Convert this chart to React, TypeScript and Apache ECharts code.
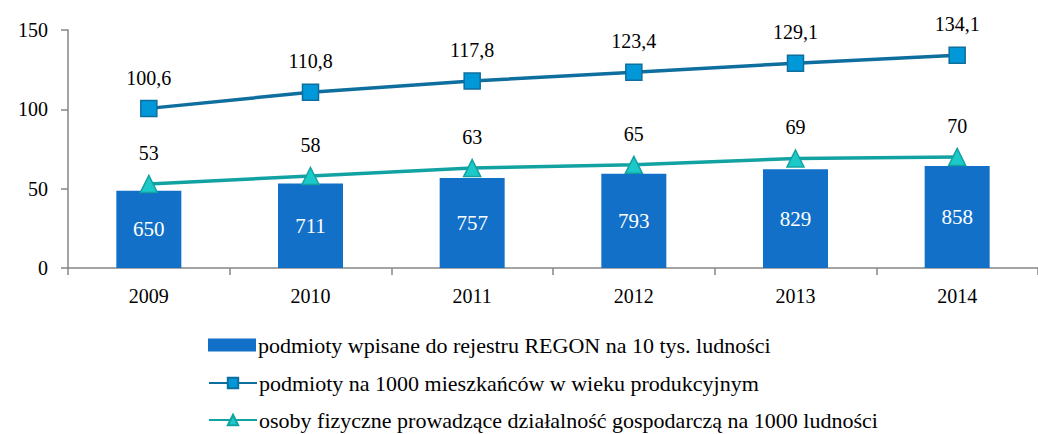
import React, { useEffect, useRef } from "react";
import * as echarts from "echarts";

const years = ["2009", "2010", "2011", "2012", "2013", "2014"];
const regonPer10k = [650, 711, 757, 793, 829, 858];
const perWorkingAge1000 = [100.6, 110.8, 117.8, 123.4, 129.1, 134.1];
const selfEmployedPer1000 = [53, 58, 63, 65, 69, 70];
const yTicks = { min: 0, max: 150, interval: 50 };

const seriesNames = [
  "podmioty wpisane do rejestru REGON na 10 tys. ludności",
  "podmioty na 1000 mieszkańców w wieku produkcyjnym",
  "osoby fizyczne prowadzące działalność gospodarczą na 1000 ludności",
];

const FONT = "Liberation Serif";

export default function App() {
  const ref = useRef<HTMLDivElement>(null);
  useEffect(() => {
    if (!ref.current) return;
    const chart = echarts.init(ref.current, null, { renderer: "svg" });
    const fmt = (v: number) => String(v).replace(".", ",");
    const legendRow = (i: number, top: number, icon?: string) => ({
      orient: "vertical",
      left: 208,
      top,
      padding: 0,
      itemWidth: 48,
      itemHeight: 13,
      textStyle: { fontFamily: FONT, fontSize: 22, color: "#000", padding: [0, 0, 0, -3] },
      data: [icon ? { name: seriesNames[i], icon } : { name: seriesNames[i] }],
    });
    chart.setOption({
      animation: false,
      textStyle: { fontFamily: FONT },
      grid: { left: 68, right: -6, top: 30, bottom: 166, containLabel: false },
      legend: [legendRow(0, 334, "rect"), legendRow(1, 372), legendRow(2, 409)],
      xAxis: {
        type: "category",
        data: years,
        boundaryGap: true,
        axisLine: { lineStyle: { color: "#868686", width: 1.5 } },
        axisTick: { show: true, length: 7, lineStyle: { color: "#868686", width: 1.5 } },
        axisLabel: { color: "#000", fontSize: 20, fontFamily: FONT, margin: 18 },
      },
      yAxis: [
        {
          type: "value",
          min: yTicks.min,
          max: yTicks.max,
          interval: yTicks.interval,
          axisLine: { show: true, lineStyle: { color: "#868686", width: 1.5 } },
          axisTick: { show: true, length: 7, lineStyle: { color: "#868686", width: 1.5 } },
          splitLine: { show: false },
          axisLabel: { color: "#000", fontSize: 20, fontFamily: FONT, margin: 20 },
        },
        { type: "value", min: 0, max: 2000, show: false, splitLine: { show: false } },
      ],
      series: [
        {
          name: seriesNames[0],
          type: "bar",
          yAxisIndex: 1,
          data: regonPer10k,
          barWidth: 65,
          itemStyle: { color: "#1270C8" },
          label: {
            show: true,
            position: "inside",
            color: "#fff",
            fontSize: 21,
            fontFamily: FONT,
          },
          z: 1,
        },
        {
          name: seriesNames[1],
          type: "line",
          data: perWorkingAge1000,
          symbol: "rect",
          symbolSize: 16,
          lineStyle: { color: "#0E6E9E", width: 3.5 },
          itemStyle: { color: "#0098D8", borderColor: "#0E6E9E", borderWidth: 1.5 },
          label: {
            show: true,
            position: "top",
            distance: 12,
            color: "#000",
            fontSize: 20,
            fontFamily: FONT,
            formatter: (p: any) => fmt(p.value),
          },
          z: 3,
        },
        {
          name: seriesNames[2],
          type: "line",
          data: selfEmployedPer1000,
          symbol: "triangle",
          symbolSize: 17,
          lineStyle: { color: "#13A2A2", width: 3.5 },
          itemStyle: { color: "#1CC9C9", borderColor: "#13A2A2", borderWidth: 1.5 },
          label: {
            show: true,
            position: "top",
            distance: 12,
            color: "#000",
            fontSize: 20,
            fontFamily: FONT,
            formatter: (p: any) => fmt(p.value),
          },
          z: 3,
        },
      ],
    });
    return () => chart.dispose();
  }, []);
  return <div ref={ref} style={{ width: 1038, height: 434, position: "absolute", left: 0, top: 0 }} />;
}
